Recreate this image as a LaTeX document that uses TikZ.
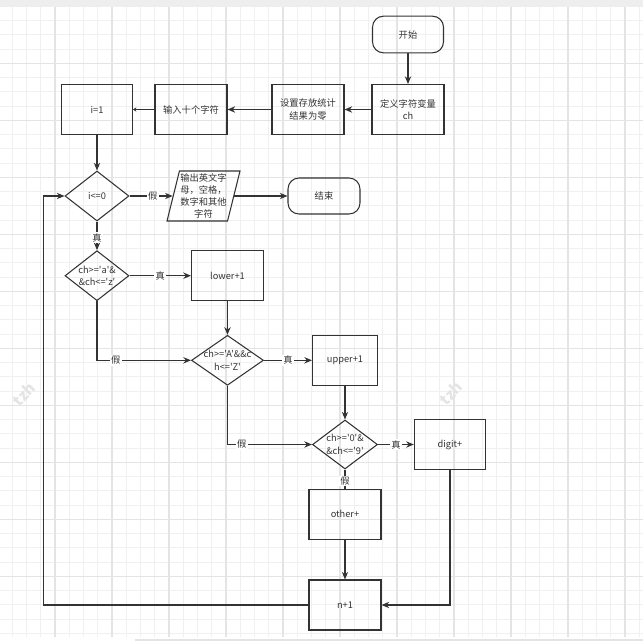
\documentclass[tikz,border=0pt]{standalone}
\usepackage{fontspec}
\setmainfont{Noto Sans CJK SC}[Ligatures=TeXOff]
\usetikzlibrary{shapes.geometric,arrows.meta}
\definecolor{linegray}{HTML}{333333}
\definecolor{gridminor}{HTML}{F0F0F0}
\definecolor{gridmajor}{HTML}{E4E4E4}
\definecolor{bandgray}{HTML}{EEEEEE}
\definecolor{markgray}{HTML}{E4E4E4}

\tikzset{
  proc/.style={draw=linegray, line width=0.9pt, minimum width=2.16cm, minimum height=1.5cm,
    inner sep=1pt, align=center, text=linegray, font=\fontsize{7.9}{10.5}\selectfont},
  term/.style={proc, rounded corners=0.33cm, minimum height=1.1cm},
  decide/.style={draw=linegray, line width=0.9pt, diamond, minimum width=1.92cm,
    minimum height=1.5cm, inner sep=0pt},
  dtext/.style={align=center, inner sep=0pt, text=linegray, font=\fontsize{7.9}{10.5}\selectfont},
  inout/.style={draw=linegray, line width=0.9pt, trapezium, trapezium left angle=75.5,
    trapezium right angle=104.5, trapezium stretches=true, minimum width=2.19cm,
    minimum height=1.5cm, inner sep=1pt},
  flow/.style={draw=linegray, line width=0.9pt, -{Stealth[length=2.3mm,width=1.9mm]}},
  tinyflow/.style={draw=linegray, line width=0.9pt, -{Stealth[length=1mm,width=1.3mm]}},
  link/.style={draw=linegray, line width=0.9pt},
  tag/.style={fill=white, inner sep=1pt, text=linegray, font=\fontsize{7.9}{9}\selectfont},
  wmark/.style={text=markgray, rotate=45, font=\fontsize{13}{13}\selectfont\bfseries}
}

\begin{document}
\begin{tikzpicture}[x=0.03cm,y=-0.03cm]
\useasboundingbox (0,0) rectangle (643,641);

% Grid paper
\foreach \k [evaluate=\k as \gx using 12.25+14.25*\k] in {0,...,44}
  \draw[gridminor, line width=0.8pt] (\gx,6.5) -- (\gx,637);
\foreach \k [evaluate=\k as \gy using 20.55+14.25*\k] in {0,...,43}
  \draw[gridminor, line width=0.8pt] (0,\gy) -- (643,\gy);
\foreach \k [evaluate=\k as \gx using 55+57*\k] in {0,...,10}
  \draw[gridmajor, line width=1pt] (\gx,6.5) -- (\gx,637);
\foreach \k [evaluate=\k as \gy using 63.3+57*\k] in {0,...,9}
  \draw[gridmajor, line width=1pt] (0,\gy) -- (643,\gy);
\fill[bandgray] (0,0) rectangle (643,6.5);
\fill[gridmajor] (135,638.5) rectangle (643,641);

% Watermarks
\node[wmark] (wm1) at (24,394) {tzh};
\node[wmark] (wm2) at (451,393) {tzh};

% Top row
\node[term, minimum width=2.13cm] (start) at (408,34.5) {开始};
\node[proc] (defch) at (408,109.5) {定义字符变量\\ch};
\node[proc] (reset) at (308,109.5) {设置存放统计\\结果为零};
\node[proc] (input) at (191,109.5) {输入十个字符};
\node[proc, minimum width=2.13cm] (init) at (97,109.5) {i=1};

% Loop test and output
\node[decide, label={[dtext]center:i<=0}] (check) at (97,196) {};
\node[inout, label={[dtext, font=\fontsize{7.9}{10}\selectfont]center:{输出英文字\\母，空格，\\数字和其他\\字符}}] (output) at (203.5,196) {};
\node[term, minimum width=2.16cm, minimum height=1.08cm] (stop) at (324,196) {结束};

% Character tests
\node[decide, label={[dtext]center:{ch>='a'\&\\\&ch<='z'}}] (islow) at (97,275.7) {};
\node[proc] (lower) at (227.5,275.7) {lower+1};
\node[decide, minimum width=2.16cm, label={[dtext]center:{ch>='A'\&\&c\\h<='Z'}}] (isup) at (227.5,360.3) {};
\node[proc, minimum width=1.95cm] (upper) at (345,360.3) {upper+1};
\node[decide, minimum width=1.95cm, minimum height=1.47cm, label={[dtext]center:{ch>='0'\&\\\&ch<='9'}}] (isdig) at (345,444.5) {};
\node[proc, minimum width=2.14cm] (digit) at (450,444.5) {digit+};
\node[proc] (other) at (345,514.3) {other+};
\node[proc] (incr) at (345,605) {n+1};
\coordinate (back) at (43.3,605);

% Connectors
\draw[flow] (start) -- (defch);
\draw[flow] (defch) -- (reset);
\draw[flow] (reset) -- (input);
\draw[tinyflow] (input) -- (init);
\draw[flow] (init) -- (check);
\draw[flow] (check) -- node[tag, pos=0.54] {假} (output.left side);
\draw[flow] (output.right side) -- (stop);
\draw[flow] (check) -- node[tag, pos=0.57] {真} (islow);
\draw[flow] (islow) -- node[tag] {真} (lower);
\draw[flow] (islow.south) |- node[tag, pos=0.6] {假} (isup.west);
\draw[flow] (lower) -- (isup);
\draw[flow] (isup) -- node[tag] {真} (upper);
\draw[flow] (isup.south) |- node[tag, pos=0.585] {假} (isdig.west);
\draw[flow] (upper) -- (isdig);
\draw[flow] (isdig) -- node[tag] {真} (digit);
\draw[link] (isdig) -- node[tag, pos=0.6] {假} (other);
\draw[flow] (other) -- (incr);
\draw[flow] (digit.south) |- (incr.east);
\draw[flow] (incr.west) -- (back) |- (check.west);

\end{tikzpicture}
\end{document}
